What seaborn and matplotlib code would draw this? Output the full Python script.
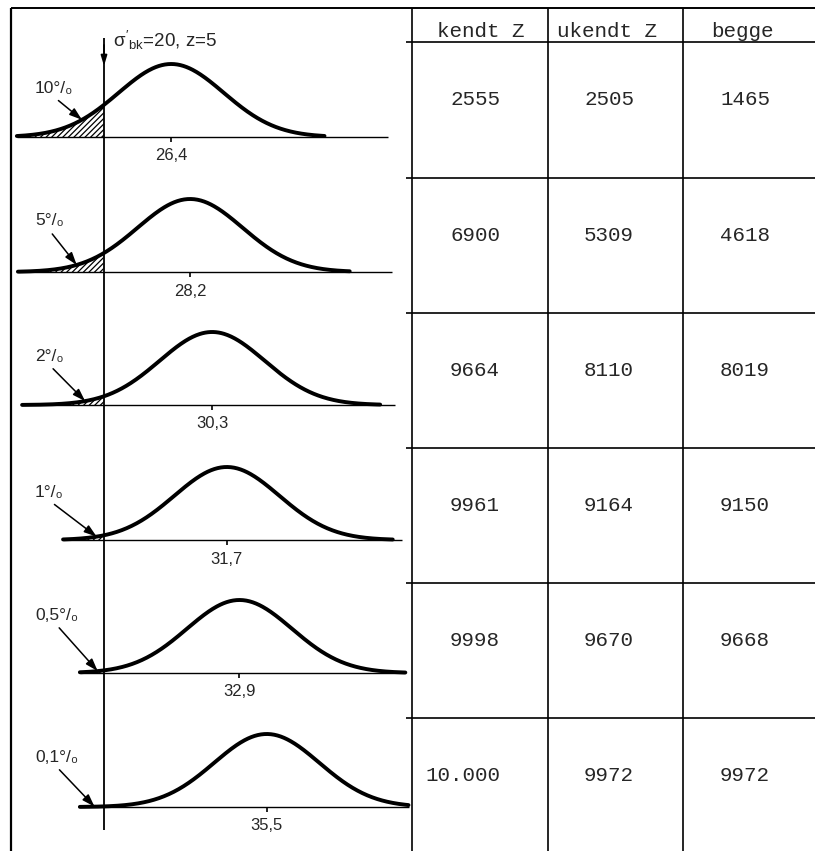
import numpy as np
import pandas as pd
import matplotlib.pyplot as plt
import seaborn as sns

# ---- data ----
percent_labels = ['10°/₀', '5°/₀', '2°/₀', '1°/₀', '0,5°/₀', '0,1°/₀']
means = [26.4, 28.2, 30.3, 31.7, 32.9, 35.5]
mean_labels = ['26,4', '28,2', '30,3', '31,7', '32,9', '35,5']
threshold = 20
sigma = 5
col_headers = ['kendt Z', 'ukendt Z', 'begge']
kendt = ['2555', '6900', '9664', '9961', '9998', '10.000']
ukendt = ['2505', '5309', '8110', '9164', '9670', '9972']
begge = ['1465', '4618', '8019', '9150', '9668', '9972']

# ---- layout (figure pixels, y downwards) ----
W, H = 815, 851
base_px = [137, 272, 405, 540, 673, 807]
peak_px = 73
px_per_unit = 10.5
thr_px = 104
panel_left, panel_right = 11, 412
curve_from = [11.7, 11.8, 12.2, 16.1, 17.7, 17.7]
curve_to = [41.0, 43.4, 46.3, 47.5, 48.7, 49.0]
line_to = [47.0, 47.4, 47.7, 48.4, 48.7, 49.0]
arrow_tip = [17.9, 17.4, 18.2, 19.3, 19.4, 19.1]
label_dy = [-49, -51, -49, -48, -58, -50]
row_lines = [42, 178, 313, 448, 583, 718]
col_x = [412, 548, 683]
head_x = [481, 607, 742]
val_right = [500, 634, 770]

sns.set_style('white')
plt.rcParams['font.family'] = ['Liberation Sans', 'DejaVu Sans']
plt.rcParams['mathtext.fontset'] = 'custom'
plt.rcParams['mathtext.rm'] = 'Liberation Sans'
plt.rcParams['mathtext.it'] = 'Liberation Sans'
plt.rcParams['hatch.linewidth'] = 0.9

fig = plt.figure(figsize=(W / 100, H / 100), dpi=100)

# canvas for frame + table
cv = fig.add_axes([0, 0, 1, 1])
cv.set_xlim(0, W)
cv.set_ylim(H, 0)
cv.axis('off')

cv.hlines(8, panel_left, W, color='black', lw=1.4)
cv.vlines(panel_left, 8, H, color='black', lw=1.6)
cv.vlines(col_x, 8, H, color='black', lw=1.2)
cv.hlines(row_lines, 406, W, color='black', lw=1.2)

table = pd.DataFrame({col_headers[0]: kendt, col_headers[1]: ukendt, col_headers[2]: begge})
mono = ['Liberation Mono', 'DejaVu Sans Mono']
for j, h in enumerate(table.columns):
    cv.text(head_x[j], 37, h, ha='center', va='baseline', family=mono, fontsize=15)
    for r, v in enumerate(table[h]):
        cv.text(val_right[j], row_lines[r] + 63, v, ha='right', va='baseline',
                family=mono, fontsize=15)

# curves panel, x in strength units
ax = fig.add_axes([panel_left / W, 0, (panel_right - panel_left) / W, 1])
ax.patch.set_alpha(0)
ax.set_xlim(threshold + (panel_left - thr_px) / px_per_unit,
            threshold + (panel_right - thr_px) / px_per_unit)
ax.set_ylim(H, 0)
ax.axis('off')

for i, m in enumerate(means):
    b = base_px[i]
    x = np.linspace(curve_from[i], curve_to[i], 400)
    y = b - peak_px * np.exp(-0.5 * ((x - m) / sigma) ** 2)
    ax.hlines(b, curve_from[i], line_to[i], color='black', lw=1.0)
    t = x <= threshold
    ax.fill_between(x[t], b, y[t], facecolor='none', edgecolor='black', hatch='//////', lw=0)
    sns.lineplot(x=x, y=y, ax=ax, color='black', lw=2.8, sort=False, estimator=None, legend=False)
    ax.vlines(m, b, b + 5, color='black', lw=1.2)
    ax.text(m, b + 19, mean_labels[i], ha='center', va='center', fontsize=12)
    tip_y = b - peak_px * np.exp(-0.5 * ((arrow_tip[i] - m) / sigma) ** 2)
    ax.annotate(percent_labels[i], xy=(arrow_tip[i], tip_y),
                xytext=(threshold + (35 - thr_px) / px_per_unit, b + label_dy[i]),
                ha='left', va='center', fontsize=12.5,
                arrowprops=dict(arrowstyle='-|>,head_length=0.6,head_width=0.2', color='black',
                                lw=1.1, relpos=(0.45, 0), shrinkA=2, shrinkB=0))

# threshold line with arrow
ax.vlines(threshold, 38, 830, color='black', lw=1.3)
ax.annotate('', xy=(threshold, 66), xytext=(threshold, 45),
            arrowprops=dict(arrowstyle='-|>,head_length=0.6,head_width=0.18', color='black',
                            lw=1.3, shrinkA=0, shrinkB=0))
ax.text(threshold + (113 - thr_px) / px_per_unit, 47, r"$\sigma'_{bk}$=20, z=5",
        va='baseline', ha='left', fontsize=13.5)

fig.savefig('out.png', dpi=100)
